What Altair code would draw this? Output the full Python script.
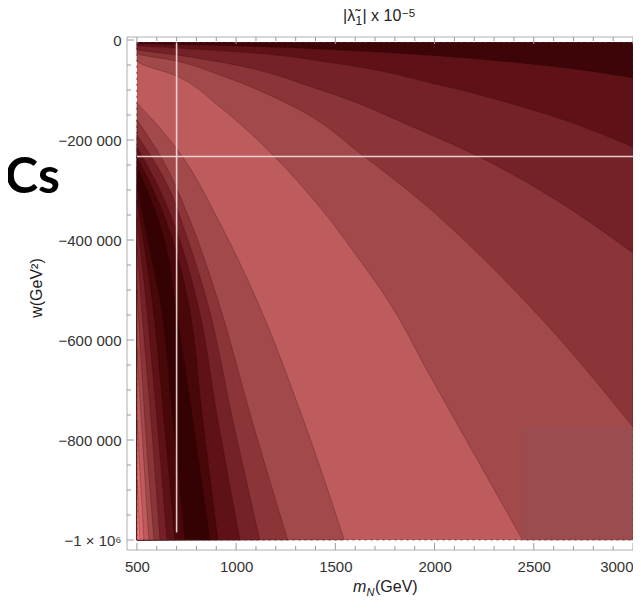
import altair as alt
import pandas as pd

# ---------------- data ----------------
MN_RANGE = [500, 3000]            # plotted m_N range (GeV)
W_RANGE = [-1000000, -5000]       # plotted w range (GeV^2)
MN_DOMAIN = [450, 3000]           # frame range, x (right side cut by the picture)
W_DOMAIN = [-1020000, 6000]       # frame range, y

X_TICKS = [500, 1000, 1500, 2000, 2500, 3000]
X_TICK_LABELS = ["500", "1000", "1500", "2000", "2500", "3000"]
X_MINOR = [600, 700, 800, 900, 1100, 1200, 1300, 1400, 1600, 1700, 1800, 1900,
           2100, 2200, 2300, 2400, 2600, 2700, 2800, 2900]
W_TICKS = [0, -200000, -400000, -600000, -800000, -1000000]
W_TICK_LABELS = ["0", "\u2212200 000", "\u2212400 000", "\u2212600 000",
                 "\u2212800 000", "\u22121 \u00d7 10\u2076"]
W_MINOR = [-50000, -100000, -150000, -250000, -300000, -350000, -450000, -500000,
           -550000, -650000, -700000, -750000, -850000, -900000, -950000]

# contour lines of |lambda_1| : upper-right family (m_N, w)
A_MN = [500, 1019, 1522, 2026, 2529, 3000]
A_W = [-7000, -12000, -20000, -32000, -50000, -76000]
B_MN = [500, 700, 1019, 1522, 2026, 2529, 3000]
B_W = [-11000, -16000, -24000, -48000, -90000, -144000, -214000]
C_MN = [500, 700, 918, 1425, 1925, 2227, 2529, 3000]
C_W = [-18000, -30000, -44000, -100000, -180000, -234000, -300000, -426000]
D_MN = [500, 700, 918, 1321, 1648, 1925, 2227, 2544, 3000]
D_W = [-26000, -42000, -70000, -140000, -234000, -320000, -430000, -560000, -774000]
E_MN = [500, 700, 918, 1195, 1421, 1623, 1764, 1975, 2202, 2444]
E_W = [-40000, -72000, -134000, -234000, -334000, -440000, -520000, -670000, -830000, -1000000]

# contour lines : lower-left family, from the ridge towards the valley
F_MN = [500, 616, 716, 918, 1104, 1321, 1545]
F_W = [-126000, -176000, -226000, -366000, -520000, -740000, -1000000]
G_MN = [500, 616, 767, 908, 1079, 1260]
G_W = [-160000, -230000, -360000, -520000, -760000, -1000000]
H_MN = [500, 641, 757, 852, 983, 1119]
H_W = [-190000, -280000, -400000, -520000, -760000, -1000000]
I_MN = [500, 616, 716, 802, 908, 1019]
I_W = [-214000, -300000, -400000, -520000, -760000, -1000000]
J_MN = [500, 616, 696, 757, 832, 908]
J_W = [-234000, -330000, -420000, -520000, -760000, -1000000]
V_MN = [500, 591, 651, 691, 782, 868]
V_W = [-254000, -340000, -420000, -520000, -760000, -1000000]
# beyond the valley, towards the lower-left corner
K_MN = [500, 555, 616, 681, 742]
K_W = [-290000, -400000, -520000, -760000, -1000000]
L_MN = [500, 540, 576, 636, 691]
L_W = [-320000, -420000, -520000, -760000, -1000000]
M_MN = [500, 545, 601, 651]
M_W = [-360000, -520000, -760000, -1000000]
N_MN = [500, 520, 571, 616]
N_W = [-410000, -520000, -760000, -1000000]
O_MN = [500, 540, 586]
O_W = [-500000, -760000, -1000000]
P_MN = [500, 525, 560]
P_W = [-620000, -780000, -1000000]
Q_MN = [500, 515, 535]
Q_W = [-760000, -860000, -1000000]
R_MN = [500, 508, 515]
R_W = [-880000, -940000, -1000000]

# benchmark cross-hair and shaded box
BENCH_MN = 700
BENCH_W = -233000
BENCH_W_END = -985000
BOX_MN = [2440, 3000]
BOX_W = [-775000, -1000000]

SLIDE_TEXT = "ACs"

# ---------------- styles ----------------
LIGHT = "#bd5b5d"
BANDS = ["#a2494b", "#8b3538", "#742127", "#5e1217", "#480709", "#350203"]
TOPMOST = "#3d0507"
PINK = ["#d86a6b", "#f07b7b"]
CONTOUR = "#2a0404"
FONT = "Liberation Sans"
TICK = "#9a9a9a"
FRAME = "#b0b0b0"

W, H = 506, 513
XS = alt.Scale(domain=MN_DOMAIN, nice=False, zero=False)
YS = alt.Scale(domain=W_DOMAIN, nice=False, zero=False)


def lab_expr(vals, labs):
    e = "''"
    for v, l in zip(reversed(vals), reversed(labs)):
        e = f"datum.value == {v} ? '{l}' : {e}"
    return e


x_axis = alt.Axis(values=X_TICKS, labelExpr=lab_expr(X_TICKS, X_TICK_LABELS),
                  ticks=False, tickSize=0, domain=False, grid=False, title=None,
                  labelFont=FONT, labelFontSize=15, labelColor="#333333",
                  labelPadding=9, labelFlush=True, labelOverlap=False, labelBound=False)
y_axis = alt.Axis(values=W_TICKS, labelExpr=lab_expr(W_TICKS, W_TICK_LABELS),
                  ticks=False, tickSize=0, domain=False, grid=False, title=None,
                  labelFont=FONT, labelFontSize=15, labelColor="#333333",
                  labelPadding=6, labelFlush=False, labelOverlap=False, labelBound=False)


def X(field, **kw):
    return alt.X(field, type="quantitative", scale=XS, axis=x_axis, **kw)


def Y(field, **kw):
    return alt.Y(field, type="quantitative", scale=YS, axis=y_axis, **kw)


layers = []

base_df = pd.DataFrame({"x": [MN_RANGE[0]], "x2": [MN_RANGE[1]],
                        "w": [W_RANGE[0]], "w2": [W_RANGE[1]]})
layers.append(alt.Chart(base_df).mark_rect(color=LIGHT).encode(
    x=X("x"), x2="x2:Q", y=Y("w"), y2="w2:Q"))


def band(df, color):
    return alt.Chart(df).mark_area(
        orient="horizontal", interpolate="monotone", fill=color, opacity=1,
        fillOpacity=1, stroke=CONTOUR, strokeWidth=0.6, strokeOpacity=0.4,
        clip=True).encode(y=Y("w"), x=X("x", stack=False), x2=alt.X2("x2:Q"))


def upper_df(mn, w):
    return pd.DataFrame({"w": [W_RANGE[1]] + w,
                         "x": [MN_RANGE[0]] + mn,
                         "x2": [MN_RANGE[1]] * (len(mn) + 1)})


def left_df(mn, w):
    return pd.DataFrame({"w": w, "x": [MN_RANGE[0]] * len(mn), "x2": mn})


for mn, w, col in [(E_MN, E_W, BANDS[0]), (D_MN, D_W, BANDS[1]), (C_MN, C_W, BANDS[2]),
                   (B_MN, B_W, BANDS[3]), (A_MN, A_W, TOPMOST)]:
    layers.append(band(upper_df(mn, w), col))

for mn, w, col in [(F_MN, F_W, BANDS[0]), (G_MN, G_W, BANDS[1]), (H_MN, H_W, BANDS[2]),
                   (I_MN, I_W, BANDS[3]), (J_MN, J_W, BANDS[4]), (V_MN, V_W, BANDS[5]),
                   (K_MN, K_W, BANDS[4]), (L_MN, L_W, BANDS[3]), (M_MN, M_W, BANDS[2]),
                   (N_MN, N_W, BANDS[1]), (O_MN, O_W, BANDS[0]), (P_MN, P_W, LIGHT),
                   (Q_MN, Q_W, PINK[0]), (R_MN, R_W, PINK[1])]:
    layers.append(band(left_df(mn, w), col))

# shaded box
box_df = pd.DataFrame({"x": [BOX_MN[0]], "x2": [BOX_MN[1]], "w": [BOX_W[0]], "w2": [BOX_W[1]]})
layers.append(alt.Chart(box_df).mark_rect(color="#9b4c4e").encode(
    x=X("x"), x2="x2:Q", y=Y("w"), y2="w2:Q"))

# dotted mesh edge around the filled region
layers.append(alt.Chart(base_df).mark_rect(fillOpacity=0, stroke="#6a2222", strokeWidth=1.2,
                                           strokeDash=[2, 4], strokeOpacity=0.7).encode(
    x=X("x"), x2="x2:Q", y=Y("w"), y2="w2:Q"))

# cross-hair
vdf = pd.DataFrame({"x": [BENCH_MN], "w": [W_RANGE[1]], "w2": [BENCH_W_END]})
layers.append(alt.Chart(vdf).mark_rule(color="#f3e0e0", strokeWidth=1.6, opacity=0.9).encode(
    x=X("x"), y=Y("w"), y2="w2:Q"))
hdf = pd.DataFrame({"w": [BENCH_W], "x": [MN_RANGE[0]], "x2": [MN_RANGE[1]]})
layers.append(alt.Chart(hdf).mark_rule(color="#f3e0e0", strokeWidth=1.6, opacity=0.9).encode(
    y=Y("w"), x=X("x"), x2="x2:Q"))

# frame: left, top, bottom (right side lies beyond the picture)
layers += [
    alt.Chart(base_df).mark_rule(color=FRAME, strokeWidth=1).encode(
        x=alt.value(0), y=alt.value(0), y2=alt.value(H)),
    alt.Chart(base_df).mark_rule(color=FRAME, strokeWidth=1).encode(
        x=alt.value(0), x2=alt.value(W), y=alt.value(0)),
    alt.Chart(base_df).mark_rule(color=FRAME, strokeWidth=1).encode(
        x=alt.value(0), x2=alt.value(W), y=alt.value(H)),
]


# frame ticks (pointing inwards)
def xticks(vals, length):
    df = pd.DataFrame({"v": vals})
    return [alt.Chart(df).mark_rule(color=TICK, strokeWidth=1).encode(
                x=X("v"), y=alt.value(H), y2=alt.value(H - length)),
            alt.Chart(df).mark_rule(color=TICK, strokeWidth=1).encode(
                x=X("v"), y=alt.value(0), y2=alt.value(length))]


def yticks(vals, length):
    df = pd.DataFrame({"v": vals})
    return [alt.Chart(df).mark_rule(color=TICK, strokeWidth=1).encode(
                y=Y("v"), x=alt.value(0), x2=alt.value(length))]


layers += xticks(X_TICKS, 7) + xticks(X_MINOR, 4) + yticks(W_TICKS, 7) + yticks(W_MINOR, 4)


def text(s, x, y, **kw):
    return alt.Chart(pd.DataFrame({"t": [s]})).mark_text(**kw).encode(
        x=alt.value(x), y=alt.value(y), text="t:N")


# title  |λ̃1| x 10^-5
tkw = dict(font=FONT, color="#222222", align="left", baseline="alphabetic")
layers += [
    text("|\u03bb\u0303", 216, -16, fontSize=16, **tkw),
    text("1", 228.5, -12, fontSize=12, **tkw),
    text("| x 10", 235.5, -16, fontSize=16, **tkw),
    text("\u22125", 275, -20, fontSize=11.5, **tkw),
]
# x title  m_N(GeV)
layers += [
    text("m", 226, 555, fontSize=16, fontStyle="italic", **tkw),
    text("N", 239.5, 558.5, fontSize=11, fontStyle="italic", **tkw),
    text("(GeV)", 248, 555, fontSize=16, **tkw),
]
# y title
layers.append(text("w(GeV\u00b2)", -85, 251, fontSize=16, angle=270, font=FONT,
                   color="#222222", align="center", baseline="alphabetic"))
# slide fragment (cut by the left edge of the picture, as in the reference)
layers.append(text(SLIDE_TEXT, -67, 156, fontSize=50, font="Lato", fontWeight="bold",
                   color="#000000", align="right", baseline="alphabetic"))

chart = alt.layer(*layers).properties(
    width=W, height=H,
    autosize=alt.AutoSizeParams(type="none"),
    padding={"left": 119, "top": 29, "right": 0, "bottom": 48},
).configure_view(stroke=None)

chart.save("out.html", embed_options={"renderer": "svg", "actions": False})
